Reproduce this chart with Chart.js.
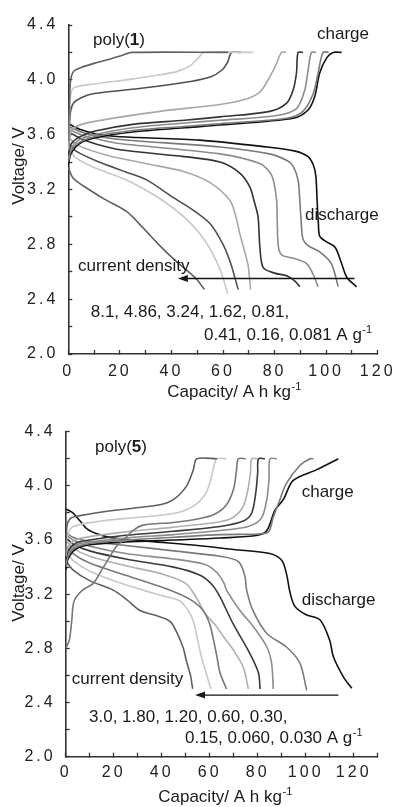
<!DOCTYPE html>
<html>
<head>
<meta charset="utf-8">
<script src="https://cdn.jsdelivr.net/npm/chart.js@4.4.0/dist/chart.umd.min.js"></script>
<style>
    html, body { margin: 0; padding: 0; background: #fff; }
    #wrap { position: relative; width: 394px; height: 807px; }
    canvas { position: absolute; left: 0; }
    #poly1 { top: 0; }
    #poly5 { top: 400px; }
</style>
</head>
<body>
<div id="wrap">
    <canvas id="poly1" width="394" height="400"></canvas>
    <canvas id="poly5" width="394" height="407"></canvas>
</div>
<script>
// ---- poly(1): current densities, A g-1 ----
const rates1 = ['8.1', '4.86', '3.24', '1.62', '0.81', '0.41', '0.16', '0.081'];

// charge curves [capacity, voltage]
const t_ch1 = [[0,3.55],[0.8,3.98],[2,4.06],[5,4.09],[10,4.12],[16,4.15],[21,4.18],[24.6,4.2],[62,4.2]];
const t_ch2 = [[0,3.5],[0.8,3.86],[2,3.94],[10,3.97],[22.6,4.0],[35,4.035],[42,4.06],[47,4.1],[50.5,4.16],[52.5,4.2],[71.7,4.2]];
const t_ch3 = [[0,3.5],[0.8,3.76],[2,3.83],[5,3.87],[10,3.9],[29,3.94],[48,3.99],[55,4.02],[59.5,4.07],[61.8,4.13],[63.3,4.2],[67,4.2]];
const t_ch4 = [[0,3.48],[0.8,3.6],[2,3.65],[9.7,3.695],[35.5,3.77],[58.8,3.82],[69,3.86],[74.3,3.91],[77.5,4.0],[80.3,4.1],[82.7,4.2],[84.5,4.2]];
const t_ch5 = [[0,3.45],[1,3.53],[4,3.58],[10,3.625],[25,3.675],[45,3.705],[58.8,3.73],[78.2,3.77],[84.7,3.83],[87.2,3.925],[88.5,4.05],[89.1,4.2],[91,4.2]];
const t_ch6 = [[0,3.42],[1,3.5],[4,3.56],[10,3.6],[25,3.65],[45,3.685],[58.8,3.705],[80.8,3.74],[88.5,3.79],[91.7,3.925],[93,4.07],[94.3,4.2],[96,4.2]];
const t_ch7 = [[0,3.4],[1,3.48],[4,3.54],[10,3.585],[25,3.63],[45,3.66],[58.8,3.68],[84.7,3.72],[91,3.77],[95,3.9],[96.9,4.05],[98.8,4.2],[101,4.2]];
const t_ch8 = [[0,3.38],[1,3.46],[4,3.53],[10,3.575],[25,3.62],[45,3.65],[58.8,3.67],[87.2,3.72],[93,3.78],[95.6,3.88],[97.5,4.05],[100.2,4.16],[102.7,4.2],[106,4.2]];

// discharge curves
const t_dis1 = [[0,3.36],[2,3.28],[8,3.2],[14,3.13],[22.6,3.04],[29,2.92],[35,2.8],[41,2.69],[46,2.61],[50,2.54],[52.8,2.47]];
const t_dis2 = [[0,3.5],[3,3.43],[10,3.36],[22.6,3.27],[35,3.14],[46,2.98],[53.6,2.81],[58.8,2.62],[61.8,2.44]];
const t_dis3 = [[0,3.54],[3,3.48],[12,3.4],[22,3.33],[30.4,3.27],[40,3.15],[48.4,3.05],[55,2.95],[60,2.8],[63,2.66],[65.9,2.47]];
const t_dis4 = [[0,3.58],[4,3.52],[15,3.45],[30,3.39],[45,3.33],[55,3.25],[62.7,3.12],[65,3.0],[66.5,2.88],[68.5,2.74],[69.8,2.64],[70.7,2.47]];
const t_dis5 = [[0,3.62],[5,3.57],[11,3.53],[20,3.49],[45,3.44],[58.8,3.4],[66.5,3.32],[70.4,3.22],[72,3.12],[73.6,3.0],[74.3,2.78],[75.6,2.63],[80,2.59],[84.7,2.57],[88,2.53],[89.8,2.49]];
const t_dis6 = [[0,3.64],[5,3.6],[11,3.57],[20,3.535],[58.8,3.46],[74.3,3.39],[78,3.33],[79.5,3.27],[80.8,3.12],[81,3.0],[81.5,2.78],[83,2.72],[87,2.7],[92.4,2.66],[95,2.58],[96.9,2.49]];
const t_dis7 = [[0,3.66],[5,3.62],[11,3.59],[20,3.565],[58.8,3.51],[78,3.46],[85,3.41],[87.2,3.37],[89.1,3.27],[89.8,3.12],[90.2,3.0],[91,2.84],[93,2.79],[97.5,2.745],[102,2.66],[104.7,2.49]];
const t_dis8 = [[0,3.68],[5,3.635],[11,3.605],[20,3.585],[51,3.56],[77,3.51],[88,3.48],[93,3.44],[95,3.38],[96,3.3],[96.5,3.12],[97,2.95],[97.5,2.86],[100,2.82],[103.4,2.78],[106,2.66],[108,2.56],[111.8,2.49]];

// ---- poly(5): current densities, A g-1 ----
const rates5 = ['3.0', '1.80', '1.20', '0.60', '0.30', '0.15', '0.060', '0.030'];

const b_ch1 = [[0,3.5],[0.5,3.7],[2,3.76],[6,3.78],[14.3,3.805],[28,3.835],[39.3,3.86],[45,3.9],[50.4,4.0],[53.2,4.12],[54.6,4.2],[63,4.2]];
const b_ch2 = [[0,3.5],[0.8,3.64],[3.2,3.7],[15,3.74],[25.4,3.76],[46,3.8],[54,3.86],[58.5,3.95],[60.5,4.05],[61.8,4.15],[62.9,4.2],[67,4.2]];
const b_ch3 = [[0,2.8],[1.5,2.86],[2.5,3.0],[3.5,3.15],[7,3.23],[11.5,3.28],[15,3.38],[18.5,3.48],[21,3.55],[24,3.6],[28,3.67],[32.3,3.71],[45,3.73],[55,3.755],[62,3.79],[67,3.86],[70,3.98],[71.2,4.12],[71.9,4.2],[75,4.2]];
const b_ch4 = [[0,3.48],[1,3.55],[4,3.6],[10,3.625],[25,3.66],[45,3.695],[64.3,3.735],[70,3.77],[74,3.85],[76,3.98],[77,4.1],[77.5,4.2],[80,4.2]];
const b_ch5 = [[0,3.45],[1,3.52],[4,3.575],[10,3.6],[25,3.635],[45,3.665],[64.3,3.7],[74,3.74],[77.5,3.8],[79.2,3.95],[80,4.1],[80.3,4.2],[83,4.2]];
const b_ch6 = [[0,3.42],[1,3.5],[4,3.56],[10,3.585],[25,3.615],[45,3.64],[64.3,3.67],[76,3.7],[81.5,3.76],[83.8,3.9],[84.7,4.05],[85.1,4.2],[88,4.2]];
const b_ch7 = [[0,3.4],[1,3.48],[4,3.545],[10,3.575],[25,3.6],[45,3.62],[64.3,3.64],[80,3.645],[84.5,3.66],[86.5,3.77],[89.3,3.9],[92,4.02],[97.6,4.15],[101.8,4.2],[103.2,4.2]];
const b_ch8 = [[0,3.38],[1,3.46],[4,3.53],[10,3.565],[25,3.585],[45,3.6],[64.3,3.615],[80,3.635],[83.8,3.67],[87.2,3.82],[90.7,3.9],[94.8,4.04],[104.6,4.12],[113.6,4.2]];

const b_dis1 = [[0,3.45],[3,3.38],[10,3.3],[19.8,3.23],[25.4,3.16],[31,3.08],[38,3.04],[43.5,3.0],[46.5,2.91],[49,2.8],[50.4,2.7],[52,2.6],[52.9,2.5]];
const b_dis2 = [[0,3.52],[3,3.45],[10,3.37],[20,3.3],[32.3,3.23],[40,3.19],[47.6,3.15],[51,3.08],[53.2,3.0],[55,2.86],[56.5,2.74],[58.8,2.6],[60.5,2.5]];
const b_dis3 = [[0,3.56],[3,3.5],[10,3.43],[25,3.34],[43.5,3.23],[52,3.16],[57.3,3.08],[60,2.98],[61.5,2.87],[63,2.74],[64.3,2.62],[67,2.5]];
const b_dis4 = [[0,3.6],[3,3.54],[10,3.48],[25,3.41],[40,3.35],[50,3.28],[54.6,3.17],[58,3.06],[62.9,2.96],[66,2.88],[69.8,2.79],[74,2.66],[76.1,2.5]];
const b_dis5 = [[0,3.62],[3,3.57],[10,3.52],[25,3.46],[45,3.4],[56,3.34],[61,3.27],[64.3,3.18],[69.8,2.98],[76.8,2.76],[80.3,2.62],[81,2.5]];
const b_dis6 = [[0,3.64],[3,3.6],[10,3.555],[25,3.5],[45,3.46],[58,3.42],[63,3.36],[66,3.28],[67,3.23],[72.6,3.08],[78.2,2.96],[83.8,2.81],[85.8,2.69],[86.5,2.5]];
const b_dis7 = [[0,3.66],[3,3.62],[10,3.59],[25,3.56],[45,3.52],[64.3,3.48],[72,3.44],[74.7,3.33],[75.4,3.23],[78,3.08],[83.8,2.91],[92,2.81],[97.6,2.69],[100.4,2.49]];
const b_dis8 = [[0,3.83],[3,3.8],[6,3.74],[9,3.68],[14,3.64],[20,3.615],[35,3.59],[55,3.56],[70,3.53],[85,3.5],[90,3.45],[92,3.35],[93.5,3.21],[95.5,3.11],[100,3.05],[106,3.01],[110,2.86],[111.5,2.74],[115.7,2.59],[119.2,2.505]];

const shades1 = ['#606060', '#c8c8c8', '#505050', '#a8a8a8', '#333333', '#8c8c8c', '#7a7a7a', '#111111'];
const shades5 = ['#606060', '#c8c8c8', '#787878', '#b0b0b0', '#3a3a3a', '#8c8c8c', '#7a7a7a', '#111111'];

const FONT = '17px "Liberation Sans", Arial, Helvetica, sans-serif';
const BOLD = 'bold 17px "Liberation Sans", Arial, Helvetica, sans-serif';
const SUP = '11px "Liberation Sans", Arial, Helvetica, sans-serif';
const TICKFONT = { family: '"Liberation Sans", Arial, sans-serif', size: 16 };

const buildSets = (charge, discharge, shades, rates) => {
    const sets = [];
    [charge, discharge].forEach((group, g) => {
        group.forEach((pts, i) => {
            sets.push({
                label: (g ? 'discharge ' : 'charge ') + rates[i],
                data: pts.map(([x, y]) => ({ x, y })),
                borderColor: shades[i],
                showLine: true,
                fill: false,
                tension: 0.3,
                borderWidth: 1.6,
                pointRadius: 0,
            });
        });
    });
    return sets;
};

// spaced-out tick labels
const spacing = {
    id: 'spacing',
    beforeDraw(chart) { chart.ctx.letterSpacing = '3px'; },
    beforeDatasetsDraw(chart) { chart.ctx.letterSpacing = '0px'; },
};

const textWithSup = (ctx, x, y, text, sup) => {
    ctx.font = FONT;
    ctx.fillText(text, x, y);
    const w = ctx.measureText(text).width;
    ctx.font = SUP;
    ctx.fillText(sup, x + w + 0.5, y - 7);
};

const notes = (n) => ({
    id: 'notes',
    afterDraw(chart) {
        const { ctx } = chart;
        const xs = chart.scales.x;
        const ys = chart.scales.y;
        ctx.save();
        ctx.letterSpacing = '0px';
        ctx.fillStyle = '#1a1a1a';
        ctx.strokeStyle = '#111';
        ctx.textAlign = 'left';
        ctx.textBaseline = 'alphabetic';

        // poly(n)
        ctx.font = FONT;
        ctx.fillText('poly(', n.poly[0], n.poly[1]);
        let w = ctx.measureText('poly(').width;
        ctx.font = BOLD;
        ctx.fillText(n.num, n.poly[0] + w, n.poly[1]);
        w += ctx.measureText(n.num).width;
        ctx.font = FONT;
        ctx.fillText(')', n.poly[0] + w, n.poly[1]);

        ctx.fillText('charge', n.charge[0], n.charge[1]);
        ctx.fillText('discharge', n.discharge[0], n.discharge[1]);
        ctx.fillText('current density', n.density[0], n.density[1]);
        ctx.fillText(n.line1, n.l1[0], n.l1[1]);
        textWithSup(ctx, n.l2[0], n.l2[1], n.line2, '-1');

        // arrow towards higher current density
        const ax1 = xs.getPixelForValue(n.arrow[0]);
        const ax2 = xs.getPixelForValue(n.arrow[1]);
        const ay = ys.getPixelForValue(n.arrow[2]);
        ctx.lineWidth = 1.4;
        ctx.beginPath();
        ctx.moveTo(ax1, ay);
        ctx.lineTo(ax2 + 6, ay);
        ctx.stroke();
        ctx.beginPath();
        ctx.moveTo(ax2, ay);
        ctx.lineTo(ax2 + 10, ay - 3.5);
        ctx.lineTo(ax2 + 10, ay + 3.5);
        ctx.closePath();
        ctx.fill();

        // axis titles
        ctx.font = FONT;
        const tw = ctx.measureText('Capacity/ A h kg').width;
        ctx.font = SUP;
        const sw = ctx.measureText('-1').width;
        textWithSup(ctx, n.xTitle[0] - (tw + sw) / 2, n.xTitle[1], 'Capacity/ A h kg', '-1');

        ctx.font = FONT;
        ctx.translate(n.yTitle[0], n.yTitle[1]);
        ctx.rotate(-Math.PI / 2);
        ctx.textAlign = 'center';
        ctx.textBaseline = 'middle';
        ctx.fillText('Voltage/ V', 0, 0);
        ctx.restore();
    },
});

const makeChart = (id, sets, cfg, n) => new Chart(document.getElementById(id), {
    type: 'scatter',
    data: { datasets: sets },
    options: {
        responsive: false,
        animation: false,
        events: [],
        layout: { padding: { top: cfg.top, right: cfg.right, left: 0, bottom: 0 } },
        plugins: { legend: { display: false }, tooltip: { enabled: false } },
        scales: {
            x: {
                type: 'linear',
                min: 0,
                max: cfg.xMax,
                afterFit: (s) => { s.height = cfg.xHeight; s.paddingLeft = 0; s.paddingRight = 0; },
                ticks: {
                    stepSize: 10,
                    autoSkip: false,
                    maxRotation: 0,
                    padding: cfg.xPad,
                    color: '#222',
                    font: TICKFONT,
                    callback: (v) => (v % 20 === 0 ? String(v) : ''),
                },
                grid: { drawOnChartArea: false, drawTicks: true, tickLength: -4, tickColor: '#333', tickWidth: 1.3 },
                border: { display: true, color: '#333', width: 1.6 },
            },
            y: {
                type: 'linear',
                min: 2.0,
                max: 4.4,
                afterFit: (s) => { s.width = cfg.yWidth; s.paddingTop = 0; s.paddingBottom = 0; },
                ticks: {
                    stepSize: 0.2,
                    padding: 14,
                    color: '#222',
                    font: TICKFONT,
                    callback: (v) => (Math.round(v * 10) % 4 === 0 ? v.toFixed(1) : ''),
                },
                grid: { drawOnChartArea: false, drawTicks: true, tickLength: -4, tickColor: '#333', tickWidth: 1.3 },
                border: { display: true, color: '#333', width: 1.6 },
            },
        },
    },
    plugins: [spacing, notes(n)],
});

makeChart('poly1',
    buildSets([t_ch1, t_ch2, t_ch3, t_ch4, t_ch5, t_ch6, t_ch7, t_ch8],
              [t_dis1, t_dis2, t_dis3, t_dis4, t_dis5, t_dis6, t_dis7, t_dis8], shades1, rates1),
    { top: 25, right: 16.3, xMax: 120, xHeight: 46, yWidth: 68.3, xPad: 11.5 },
    {
        num: '1', poly: [93, 44.5], charge: [317, 38.5], discharge: [305, 219.5],
        density: [78, 271], l1: [90.7, 316.5], l2: [204, 340],
        line1: rates1.slice(0, 5).join(', ') + ',',
        line2: rates1.slice(5).join(', ') + ' A g',
        arrow: [111, 42.5, 2.551], xTitle: [234, 396.5], yTitle: [19, 166],
    });

makeChart('poly5',
    buildSets([b_ch1, b_ch2, b_ch3, b_ch4, b_ch5, b_ch6, b_ch7, b_ch8],
              [b_dis1, b_dis2, b_dis3, b_dis4, b_dis5, b_dis6, b_dis7, b_dis8], shades5, rates5),
    { top: 31.7, right: 16.3, xMax: 130, xHeight: 50.3, yWidth: 65.7, xPad: 10.5 },
    {
        num: '5', poly: [95, 51.5], charge: [301.7, 96.5], discharge: [301.7, 205],
        density: [71.7, 284], l1: [89, 321.5], l2: [185, 343],
        line1: rates5.slice(0, 5).join(', ') + ',',
        line2: rates5.slice(5).join(', ') + ' A g',
        arrow: [113.6, 53.9, 2.455], xTitle: [225, 402], yTitle: [19, 183],
    });
</script>
</body>
</html>
